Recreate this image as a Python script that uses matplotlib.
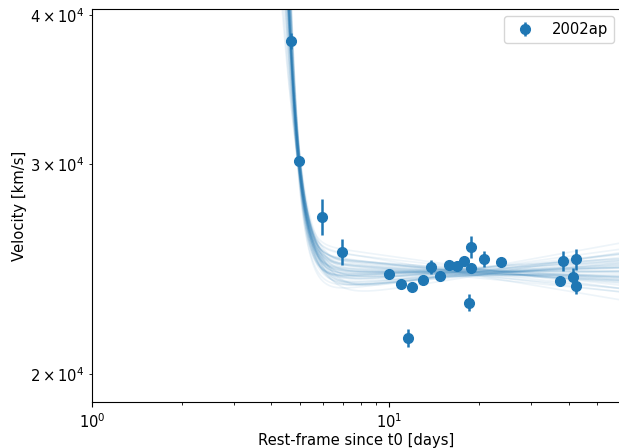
import numpy as np
import matplotlib
matplotlib.use("Agg")
import matplotlib.pyplot as plt

plt.rcParams["font.size"] = 10.6

# observed data (rest-frame days, velocity km/s, error km/s)
t_obs = [4.65, 4.95, 5.91, 6.90, 10.0, 10.95, 11.58, 11.92, 12.93, 13.80, 14.79,
         15.90, 16.87, 17.85, 18.46, 18.75, 18.85, 20.72, 23.76, 37.4, 38.4,
         41.3, 42.3, 42.3]
v_obs = [38040, 30170, 27090, 25320, 24250, 23800, 21450, 23660, 23970, 24580, 24150,
         24680, 24630, 24880, 22960, 25570, 24550, 24960, 24820, 23920, 24880,
         24130, 24960, 23700]
v_err = [590, 250, 950, 640, 150, 150, 380, 150, 150, 320, 150,
         150, 150, 200, 370, 550, 150, 380, 150, 150, 470,
         390, 520, 380]

# posterior samples of the fitted model v = P*(t/18)^beta + E*(t/4.8)^(-alpha)
samp_P = [24350, 24200, 24500, 24300, 24420, 24150, 24550, 24380, 24260, 24450,
          24100, 24600, 24330, 24280, 24470, 24220, 24390, 24310, 24180, 24520,
          24360, 24240, 24430, 24290, 24170, 24480, 24340, 24250, 24410, 24370,
          24130, 24560, 24320, 24400, 24270, 24460, 24210, 24380, 24300, 24440,
          24190, 24350, 24490, 24230, 24360, 24280, 24420, 24160, 24330, 24510]
samp_beta = [0.000, 0.015, -0.018, 0.030, -0.010, 0.022, -0.028, 0.006, -0.005, 0.012,
             0.040, -0.035, -0.014, 0.009, 0.025, -0.022, 0.018, -0.008, 0.003, -0.016,
             0.011, -0.002, 0.034, -0.030, 0.020, -0.012, 0.007, 0.027, -0.020, 0.001,
             -0.024, 0.014, -0.006, 0.045, -0.042, 0.004, 0.017, -0.015, 0.010, -0.003,
             0.024, -0.026, 0.013, -0.009, 0.002, 0.032, -0.019, 0.008, -0.011, 0.016]
samp_E = [9000, 8600, 9400, 8900, 9200, 8400, 9600, 9100, 8800, 9300,
          8700, 9500, 9050, 8950, 8500, 9700, 9150, 8850, 9250, 8650,
          9000, 9100, 8800, 9350, 8950, 9200, 8700, 9050, 9400, 8600,
          9300, 8900, 9150, 8750, 9450, 9000, 8850, 9250, 9100, 8950,
          8550, 9350, 9000, 8800, 9200, 9050, 8700, 9300, 8900, 9100]
samp_alpha = [13.6, 12.0, 15.0, 10.5, 14.2, 9.0, 16.5, 13.0, 11.5, 14.8,
              8.0, 17.5, 12.8, 13.9, 10.0, 16.0, 12.4, 15.5, 11.0, 14.4,
              13.3, 12.6, 9.5, 17.0, 13.8, 11.8, 15.2, 10.8, 14.0, 12.2,
              16.8, 13.1, 11.3, 7.2, 18.0, 13.5, 12.9, 14.6, 10.3, 13.7,
              9.8, 15.8, 12.5, 14.1, 11.1, 13.4, 16.2, 10.7, 12.1, 14.9]

fig = plt.figure(figsize=(6.19, 4.48), dpi=100)
ax = fig.add_axes([0.1486, 0.1016, 0.8546, 0.8783])

tt = np.logspace(np.log10(3.5), np.log10(60), 500)
for P, beta, E, alpha in zip(samp_P, samp_beta, samp_E, samp_alpha):
    model = P * (tt / 18.0) ** beta + E * (tt / 4.8) ** (-alpha)
    ax.plot(tt, model, color="C0", alpha=0.08, lw=1.2)

ax.errorbar(t_obs, v_obs, yerr=v_err, fmt="o", color="C0", ms=7, elinewidth=1.8,
            capsize=0, label="2002ap")

ax.set_xscale("log")
ax.set_yscale("log")
ax.set_xlim(1, 60)
ax.set_ylim(18930, 40460)
ax.set_xlabel("Rest-frame since t0 [days]", labelpad=1.5)
ax.set_ylabel("Velocity [km/s]", labelpad=2.5)
ax.legend(loc="upper right")

fig.savefig("out.png", dpi=100)
